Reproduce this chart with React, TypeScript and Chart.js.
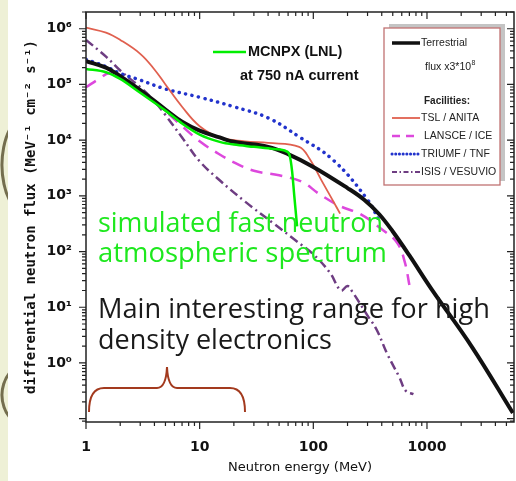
import React, { useEffect, useRef } from 'react';
import { Chart, registerables } from 'chart.js';

Chart.register(...registerables);

// ---------- data (energy in MeV, flux in MeV^-1 cm^-2 s^-1) ----------
const terrestrialE = [1, 1.5, 2, 3, 5, 7, 10, 15, 20, 40, 60, 100, 200, 280, 380, 500, 700, 1100, 2500, 5700];
const terrestrialFlux = [263000, 200000, 141000, 79400, 35500, 21400, 14800, 11200, 9330, 7590, 5620, 3310, 1380, 851, 468, 229, 85.1, 20.9, 1.91, 0.126];

const mcnpxE = [1, 1.5, 2, 3, 5, 7, 10, 15, 20, 30, 45, 58, 62, 65, 68, 72];
const mcnpxFlux = [190500, 166000, 125900, 70800, 33900, 19950, 12590, 9330, 8320, 7590, 6920, 6310, 5250, 2820, 1000, 282];

const tslE = [1, 1.5, 2, 3, 4, 5, 7, 10, 15, 25, 40, 75, 93, 120, 150, 172];
const tslFlux = [1047000, 851000, 631000, 355000, 186000, 100000, 39800, 17800, 11200, 9550, 8910, 7590, 4570, 1780, 794, 479];

const lansceE = [1, 1.3, 1.6, 2, 3, 5, 7, 10, 14, 20, 30, 50, 80, 110, 170, 260, 400, 550, 640, 700];
const lansceFlux = [89100, 125900, 158500, 131800, 79400, 33100, 17800, 9550, 6030, 3980, 2820, 2340, 1780, 1120, 661, 468, 251, 141, 63.1, 25.1];

const triumfE = [1, 1.5, 2, 3, 5, 10, 20, 40, 75, 150, 300, 385];
const triumfFlux = [282000, 209000, 158000, 120000, 83000, 58900, 39800, 25100, 11500, 4370, 851, 339];

const isisE = [1, 1.5, 2, 3, 4, 5, 7, 10, 15, 25, 45, 70, 100, 140, 175, 200, 220, 300, 360, 450, 570, 650, 760];
const isisFlux = [631000, 316000, 178000, 89100, 50100, 28200, 11200, 4170, 1905, 794, 316, 158, 89.1, 41.7, 19.95, 24.0, 19.05, 7.08, 3.98, 1.41, 0.562, 0.316, 0.275];

const xTickValues = [1, 10, 100, 1000];
const xTickLabels = ['1', '10', '100', '1000'];
const yTickValues = [1, 10, 100, 1000, 10000, 100000, 1000000];
const yTickLabels = ['10⁰', '10¹', '10²', '10³', '10⁴', '10⁵', '10⁶'];

const X_MIN = 1;
const X_MAX = 5830;
const Y_MIN = 0.087;
const Y_MAX = 2.0e6;

// ---------- styles ----------
const W = 516;
const H = 481;
const C_BLACK = '#111111';
const C_GREEN = '#1ee81e';
const C_RED = '#e0604f';
const C_MAGENTA = '#dd48dd';
const C_BLUE = '#2233cc';
const C_PURPLE = '#6e3d82';

const toPts = (xs: number[], ys: number[]) => xs.map((x, i) => ({ x, y: ys[i] }));

function fitFont(ctx: CanvasRenderingContext2D, text: string, family: string, weight: string, target: number) {
  ctx.font = `${weight} 24px ${family}`;
  const w = ctx.measureText(text).width;
  const size = (24 * target) / w;
  return `${weight} ${size.toFixed(2)}px ${family}`;
}

const decorPlugin = {
  id: 'decor',
  beforeDraw(chart: any) {
    const ctx = chart.ctx as CanvasRenderingContext2D;
    ctx.save();
    ctx.fillStyle = '#ffffff';
    ctx.fillRect(0, 0, W, H);
    ctx.fillStyle = '#eef0d6';
    ctx.fillRect(0, 0, 8, H);
    ctx.beginPath();
    ctx.rect(0, 0, 8, H);
    ctx.clip();
    ctx.strokeStyle = '#746e4e';
    ctx.lineWidth = 3;
    ctx.beginPath();
    ctx.ellipse(26, 165, 24, 48, 0, Math.PI * 0.62, Math.PI * 1.38);
    ctx.stroke();
    ctx.beginPath();
    ctx.ellipse(26, 395, 24, 30, 0, Math.PI * 0.62, Math.PI * 1.38);
    ctx.stroke();
    ctx.restore();
  },
  afterDatasetsDraw(chart: any) {
    const ctx = chart.ctx as CanvasRenderingContext2D;
    const xs = chart.scales.x;
    const ys = chart.scales.y;
    const { left, right, top, bottom } = chart.chartArea;
    ctx.save();

    // frame
    ctx.strokeStyle = '#222';
    ctx.lineWidth = 1.5;
    ctx.strokeRect(left, top, right - left, bottom - top);

    // ticks
    ctx.lineWidth = 1.2;
    ctx.beginPath();
    for (let d = 0; d <= 4; d++) {
      for (let m = 1; m <= 9; m++) {
        const v = m * Math.pow(10, d);
        if (v < X_MIN - 1e-9 || v > X_MAX) continue;
        const px = xs.getPixelForValue(v);
        const len = m === 1 ? 7 : 4;
        ctx.moveTo(px, bottom);
        ctx.lineTo(px, bottom + len);
        ctx.moveTo(px, top);
        ctx.lineTo(px, top + len);
      }
    }
    for (let d = -2; d <= 6; d++) {
      for (let m = 1; m <= 9; m++) {
        const v = m * Math.pow(10, d);
        if (v < Y_MIN || v > Y_MAX) continue;
        const py = ys.getPixelForValue(v);
        const len = m === 1 ? 7 : 4;
        ctx.moveTo(left, py);
        ctx.lineTo(left - len, py);
        ctx.moveTo(right, py);
        ctx.lineTo(right - len, py);
      }
    }
    ctx.stroke();

    // MCNPX annotation
    ctx.strokeStyle = '#00ee00';
    ctx.lineWidth = 2.5;
    ctx.beginPath();
    ctx.moveTo(213, 52);
    ctx.lineTo(246, 52);
    ctx.stroke();
    ctx.fillStyle = '#111';
    ctx.textBaseline = 'middle';
    ctx.textAlign = 'left';
    ctx.font = 'bold 14.5px "Liberation Sans"';
    ctx.fillText('MCNPX (LNL)', 248, 52);
    ctx.fillText('at 750 nA current', 240, 76);

    // legend box
    const bx = 384, by = 28, bw = 116, bh = 157;
    ctx.fillStyle = '#c4c4c4';
    ctx.fillRect(bx + 5, by - 4, bw, bh);
    ctx.fillStyle = '#ffffff';
    ctx.fillRect(bx, by, bw, bh);
    ctx.strokeStyle = '#c07272';
    ctx.lineWidth = 1.3;
    ctx.strokeRect(bx, by, bw, bh);

    const lx0 = 392, lx1 = 420;
    const legendLine = (y: number, color: string, width: number, dash: number[], cap: CanvasLineCap, x0 = lx0, x1 = lx1) => {
      ctx.strokeStyle = color;
      ctx.lineWidth = width;
      ctx.setLineDash(dash);
      ctx.lineCap = cap;
      ctx.beginPath();
      ctx.moveTo(x0, y);
      ctx.lineTo(x1, y);
      ctx.stroke();
      ctx.setLineDash([]);
      ctx.lineCap = 'butt';
    };
    ctx.fillStyle = '#222';
    ctx.font = '10.5px "Liberation Sans"';
    legendLine(43, C_BLACK, 3.5, [], 'butt');
    ctx.fillText('Terrestrial', 421, 43);
    ctx.fillText('flux x3*10', 425, 67);
    const fw = ctx.measureText('flux x3*10').width;
    ctx.font = '7px "Liberation Sans"';
    ctx.fillText('8', 425 + fw + 0.5, 63);
    ctx.font = 'bold 10px "Liberation Sans"';
    ctx.fillText('Facilities:', 424, 101);
    ctx.font = '10.5px "Liberation Sans"';
    legendLine(118, C_RED, 1.8, [], 'butt');
    ctx.fillText('TSL / ANITA', 421, 118);
    legendLine(136, C_MAGENTA, 2.5, [8, 6], 'butt', lx0, 418);
    ctx.fillText('LANSCE / ICE', 424, 136);
    legendLine(154, C_BLUE, 3, [0.1, 3.6], 'round');
    ctx.fillText('TRIUMF / TNF', 421, 154);
    legendLine(172, C_PURPLE, 2.2, [5, 2.5, 1.5, 2.5], 'butt');
    ctx.fillText('ISIS / VESUVIO', 421, 172);

    // large texts
    ctx.textBaseline = 'alphabetic';
    const fam = '"Open Sans"';
    ctx.fillStyle = C_GREEN;
    ctx.font = fitFont(ctx, 'simulated fast neutron', fam, 'normal', 285);
    ctx.fillText('simulated fast neutron', 98, 232);
    ctx.font = fitFont(ctx, 'atmospheric spectrum', fam, 'normal', 289);
    ctx.fillText('atmospheric spectrum', 98, 262);
    ctx.fillStyle = '#1a1a1a';
    ctx.font = fitFont(ctx, 'Main interesting range for high', fam, 'normal', 392);
    ctx.fillText('Main interesting range for high', 98, 318);
    ctx.font = fitFont(ctx, 'density electronics', fam, 'normal', 234);
    ctx.fillText('density electronics', 98, 349);

    // brace
    ctx.strokeStyle = '#a33a1e';
    ctx.lineWidth = 2;
    ctx.beginPath();
    ctx.moveTo(89, 412);
    ctx.quadraticCurveTo(89, 388, 104, 388);
    ctx.lineTo(157, 388);
    ctx.quadraticCurveTo(166, 388, 167, 367);
    ctx.quadraticCurveTo(168, 388, 177, 388);
    ctx.lineTo(230, 388);
    ctx.quadraticCurveTo(245, 388, 245, 412);
    ctx.stroke();

    ctx.restore();
  },
};

export default function App() {
  const ref = useRef<HTMLCanvasElement>(null);

  useEffect(() => {
    document.body.style.margin = '0';
    const canvas = ref.current;
    if (!canvas) return;
    const tickFont = { family: '"DejaVu Sans"', weight: 'bold' as const, size: 14 };
    const chart = new Chart(canvas, {
      type: 'line',
      data: {
        datasets: [
          { label: 'MCNPX (LNL)', data: toPts(mcnpxE, mcnpxFlux), borderColor: '#00ee00', borderWidth: 2.5, cubicInterpolationMode: 'monotone' },
          { label: 'Terrestrial', data: toPts(terrestrialE, terrestrialFlux), borderColor: C_BLACK, borderWidth: 4, tension: 0.4 },
          { label: 'TSL / ANITA', data: toPts(tslE, tslFlux), borderColor: C_RED, borderWidth: 1.8, tension: 0.4 },
          { label: 'LANSCE / ICE', data: toPts(lansceE, lansceFlux), borderColor: C_MAGENTA, borderWidth: 2.5, borderDash: [12, 8], tension: 0.4 },
          { label: 'TRIUMF / TNF', data: toPts(triumfE, triumfFlux), borderColor: C_BLUE, borderWidth: 3.5, borderDash: [0.1, 6.5], borderCapStyle: 'round', tension: 0.4 },
          { label: 'ISIS / VESUVIO', data: toPts(isisE, isisFlux), borderColor: C_PURPLE, borderWidth: 2.5, borderDash: [9, 4, 2, 4], tension: 0.4 },
        ].map((d) => ({ ...d, pointRadius: 0, fill: false })),
      },
      options: {
        responsive: false,
        animation: false,
        layout: { padding: { top: 12, right: 2, left: 0, bottom: 0 } },
        plugins: { legend: { display: false }, tooltip: { enabled: false } },
        scales: {
          x: {
            type: 'logarithmic',
            min: X_MIN,
            max: X_MAX,
            afterBuildTicks: (s: any) => {
              s.ticks = xTickValues.map((v) => ({ value: v }));
            },
            afterFit: (s: any) => {
              s.height = 59;
              s.paddingLeft = 0;
              s.paddingRight = 0;
            },
            grid: { display: false, drawTicks: false },
            border: { display: false },
            ticks: {
              autoSkip: false,
              maxRotation: 0,
              padding: 17,
              color: '#111',
              font: tickFont,
              callback: (_v: any, i: number) => xTickLabels[i],
            },
            title: {
              display: true,
              text: 'Neutron energy (MeV)',
              color: '#111',
              font: { family: '"DejaVu Sans"', size: 13 },
              padding: { top: 0, bottom: 6 },
            },
          },
          y: {
            type: 'logarithmic',
            min: Y_MIN,
            max: Y_MAX,
            afterBuildTicks: (s: any) => {
              s.ticks = yTickValues.map((v) => ({ value: v }));
            },
            afterFit: (s: any) => {
              s.width = 86;
              s.paddingTop = 0;
              s.paddingBottom = 0;
            },
            grid: { display: false, drawTicks: false },
            border: { display: false },
            ticks: {
              autoSkip: false,
              padding: 14,
              color: '#111',
              font: tickFont,
              callback: (_v: any, i: number) => yTickLabels[i],
            },
            title: {
              display: true,
              text: 'differential neutron flux (MeV⁻¹ cm⁻² s⁻¹)',
              color: '#111',
              font: { family: '"DejaVu Sans Mono"', weight: 'bold', size: 14 },
              padding: { top: 23, bottom: 0 },
            },
          },
        },
      },
      plugins: [decorPlugin],
    } as any);
    return () => chart.destroy();
  }, []);

  return (
    <div style={{ width: W, height: H, position: 'relative', overflow: 'hidden', background: '#fff' }}>
      <canvas ref={ref} width={W} height={H} style={{ display: 'block' }} />
    </div>
  );
}
